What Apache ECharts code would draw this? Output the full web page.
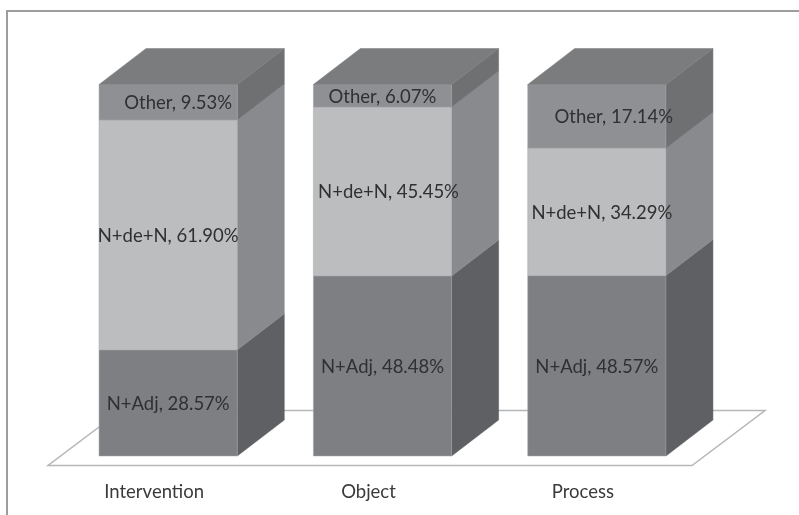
<!DOCTYPE html>
<html>
<head>
<meta charset="utf-8">
<style>html,body{margin:0;padding:0;background:#fff}#chart{width:799px;height:515px}</style>
<script src="https://cdn.jsdelivr.net/npm/echarts@6/dist/echarts.min.js"></script>
</head>
<body>
<div id="chart"></div>
<script>
// Noun-phrase structure shares per category, stacked bottom to top.
const categories = ['Intervention', 'Object', 'Process'];
const seriesNames = ['N+Adj', 'N+de+N', 'Other'];
const nAdj = [28.57, 48.48, 48.57];
const nDeN = [61.90, 45.45, 34.29];
const other = [9.53, 6.07, 17.14];
const stacks = [nAdj, nDeN, other];

// Face colours for each stacked segment.
const frontColors = ['#7e7f82', '#bcbdbf', '#8f9093'];
const sideColors = ['#5f6064', '#898a8d', '#6f7072'];
const topColor = '#7b7c7e';

// Box extrusion and horizontal label shifts (per segment, per category).
const depthX = 47;
const depthY = 36;
const barRatio = 0.645;
const labelShift = [[0, 0, 0], [0, 6, 5], [10, 0, 17]];

function segmentRenderer(level) {
  return function (params, api) {
    const cat = api.value(0);
    const start = api.value(1);
    const end = api.value(2);
    const width = api.size([1, 0])[0] * barRatio;
    const bottom = api.coord([cat, start]);
    const top = api.coord([cat, end]);
    const x0 = bottom[0] - width / 2;
    const x1 = bottom[0] + width / 2;
    const y0 = bottom[1];
    const y1 = top[1];
    const children = [
      {
        type: 'polygon',
        shape: { points: [[x1, y0], [x1 + depthX, y0 - depthY], [x1 + depthX, y1 - depthY], [x1, y1]] },
        style: { fill: sideColors[level], stroke: sideColors[level], lineWidth: 0.5 }
      },
      {
        type: 'rect',
        shape: { x: x0, y: y1, width: width, height: y0 - y1 },
        style: { fill: frontColors[level], stroke: '#a6a7a9', lineWidth: 0.5 }
      }
    ];
    if (level === stacks.length - 1) {
      children.push({
        type: 'polygon',
        shape: { points: [[x0, y1], [x0 + depthX, y1 - depthY], [x1 + depthX, y1 - depthY], [x1, y1]] },
        style: { fill: topColor, stroke: topColor, lineWidth: 0.5 }
      });
    }
    children.push({
      type: 'text',
      style: {
        x: bottom[0] + labelShift[level][cat],
        y: (y0 + y1) / 2 + 1,
        text: seriesNames[level] + ', ' + stacks[level][cat].toFixed(2) + '%',
        fill: '#2f3032',
        font: '18.5px Lato',
        align: 'center',
        verticalAlign: 'middle'
      }
    });
    return { type: 'group', children: children };
  };
}

const series = stacks.map(function (values, level) {
  const data = values.map(function (value, cat) {
    let start = 0;
    for (let i = 0; i < level; i++) start += stacks[i][cat];
    return [cat, start, start + value];
  });
  return {
    type: 'custom',
    name: seriesNames[level],
    coordinateSystem: 'cartesian2d',
    clip: false,
    encode: { x: 0, y: [1, 2] },
    data: data,
    renderItem: segmentRenderer(level)
  };
});

const chart = echarts.init(document.getElementById('chart'), null, { renderer: 'canvas' });
chart.setOption({
  animation: false,
  backgroundColor: '#ffffff',
  grid: { left: 61, top: 84.5, width: 643, height: 371.5, containLabel: false },
  xAxis: {
    type: 'category',
    data: categories,
    axisLine: { show: false },
    axisTick: { show: false },
    axisLabel: {
      interval: 0,
      margin: 27,
      color: '#3a3a3c',
      fontFamily: 'Lato',
      fontSize: 18.5,
      padding: [0, 28, 0, 0]
    }
  },
  yAxis: { type: 'value', min: 0, max: 100, show: false },
  graphic: [
    // Chart frame, open on the right and bottom edges.
    {
      type: 'polyline',
      z: 0,
      shape: { points: [[7, 515], [7, 11], [799, 11]] },
      style: { stroke: '#9d9d9f', lineWidth: 2, fill: null }
    },
    // Floor plane under the boxes.
    {
      type: 'polygon',
      z: 0,
      shape: { points: [[48, 465.5], [692, 465.5], [765, 410.5], [121, 410.5]] },
      style: { stroke: '#b5b6b8', lineWidth: 1.5, fill: '#ffffff' }
    }
  ],
  series: series
});
</script>
</body>
</html>
